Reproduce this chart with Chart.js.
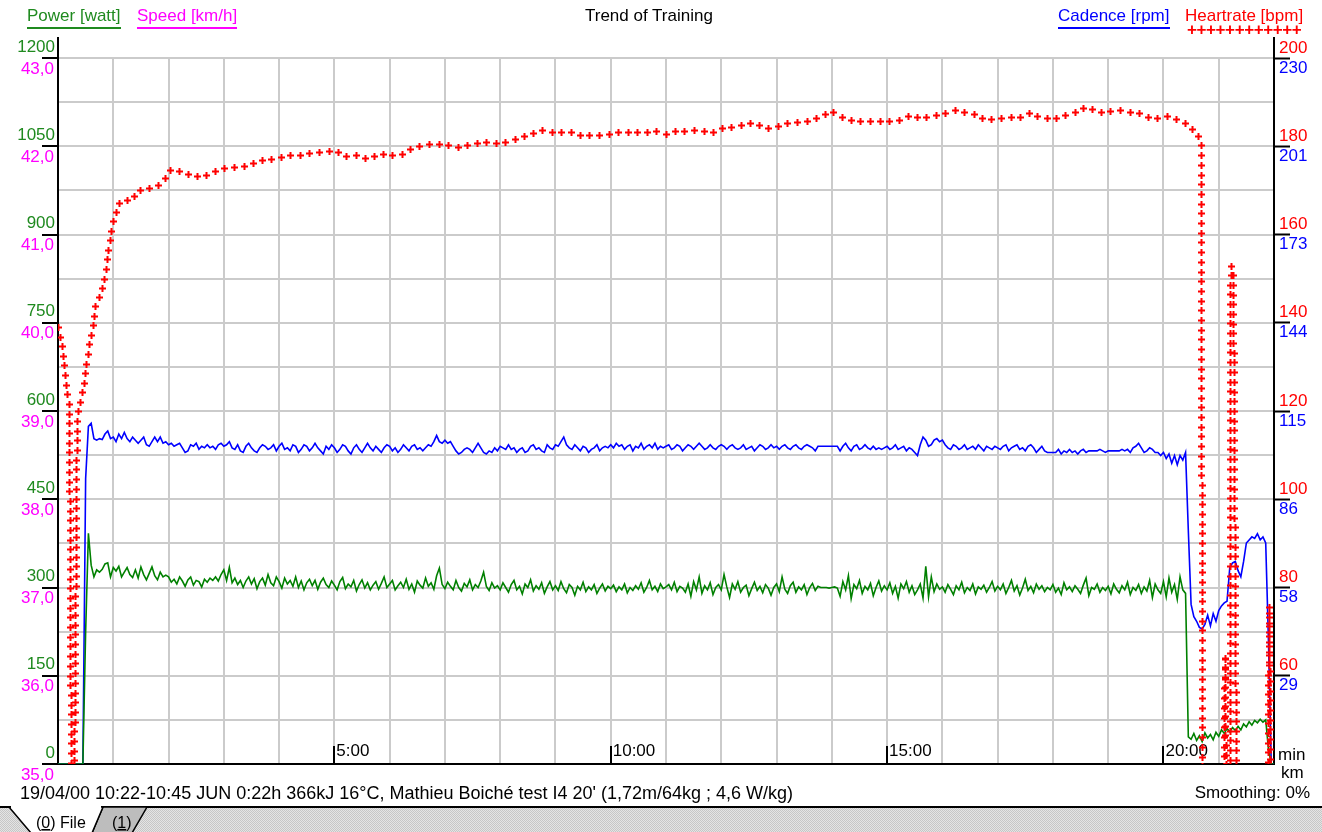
<!DOCTYPE html>
<html>
<head>
<meta charset="utf-8">
<title>Trend of Training</title>
<script src="https://cdn.jsdelivr.net/npm/chart.js@4.4.1/dist/chart.umd.min.js"></script>
<style>
  html, body { margin: 0; padding: 0; background: #ffffff; }
  body { position: relative; width: 1322px; height: 832px; overflow: hidden;
         font-family: 'Liberation Sans', Arial, sans-serif; font-size: 17px; }
  #trend { position: absolute; left: 0; top: 0; }
  .txt { position: absolute; white-space: nowrap; line-height: 20px; }
  .key { padding-bottom: 1px; border-bottom: 2px solid currentColor; }
  #tabs { position: absolute; left: 0; top: 804px; }
</style>
</head>
<body>
<canvas id="trend" width="1322" height="832"></canvas>

<div class="txt key" style="left:27px;top:6px;color:#1f8a1f">Power [watt]</div>
<div class="txt key" style="left:137px;top:6px;color:#ff00ff">Speed [km/h]</div>
<div class="txt" style="left:585px;top:6px;color:#000">Trend of Training</div>
<div class="txt key" style="left:1058px;top:6px;color:#0000ff">Cadence [rpm]</div>
<div class="txt" style="left:1185px;top:6px;color:#ff0000">Heartrate [bpm]</div>
<div class="txt" style="left:1187px;top:20px;color:#ff0000;font-weight:bold;letter-spacing:-0.4px">++++++++++++</div>

<div class="txt" style="left:1278px;top:745px">min</div>
<div class="txt" style="left:1281px;top:763px">km</div>
<div class="txt" style="left:20px;top:783px;font-size:18px">19/04/00 10:22-10:45 JUN 0:22h 366kJ 16°C, Mathieu Boiché test I4 20' (1,72m/64kg ; 4,6 W/kg)</div>
<div class="txt" style="right:12px;top:783px">Smoothing: 0%</div>

<svg id="tabs" width="1322" height="28">
  <defs>
    <pattern id="dots" width="2" height="2" patternUnits="userSpaceOnUse">
      <rect width="2" height="2" fill="#e4e4e4"/>
      <rect width="1" height="1" fill="#c6c6c6"/>
      <rect x="1" y="1" width="1" height="1" fill="#c6c6c6"/>
    </pattern>
  </defs>
  <rect x="0" y="3" width="1322" height="25" fill="url(#dots)"/>
  <line x1="0" y1="3" x2="1322" y2="3" stroke="#000" stroke-width="2"/>
  <polygon points="103,3 147,3 132,29 92,29" fill="#bdbdbd" stroke="#000" stroke-width="1.5"/>
  <polygon points="9,3 103,3 92,29 31,29" fill="#fff" stroke="#000" stroke-width="1.5"/>
  <line x1="11" y1="3" x2="101" y2="3" stroke="#fff" stroke-width="2.5"/>
  <text x="36" y="24" font-family="Liberation Sans, Arial, sans-serif" font-size="16">(<tspan text-decoration="underline">0</tspan>) File</text>
  <text x="112" y="24" font-family="Liberation Sans, Arial, sans-serif" font-size="16">(<tspan text-decoration="underline">1</tspan>)</text>
</svg>

<script>
// power and cadence are recorded every 3 s (0.05 min)
const sampleStep = 0.05;

// power [watt], one value per sample, 0:00 .. 22:00
const powerWatt = [
  0,0,0,0,0,0,0,0,0,0,225,392,338,318,330,326,331,340,342,318,
  334,328,336,318,326,334,322,317,330,316,335,322,313,324,335,320,313,326,318,321,
  318,309,314,306,318,311,302,313,318,304,312,310,301,314,309,316,312,318,311,322,
  330,312,334,308,316,305,312,300,311,318,306,315,298,310,316,304,322,308,303,318,
  310,299,316,306,312,302,318,300,311,296,308,314,303,312,297,309,316,305,300,311,
  304,296,310,317,298,306,301,312,294,305,313,299,308,296,304,310,297,307,318,300,
  306,312,296,303,309,300,314,297,306,292,311,304,299,316,302,308,297,320,333,305,
  298,309,302,296,312,300,294,307,301,313,296,305,300,311,326,302,295,308,299,303,
  296,308,300,292,305,312,296,302,289,306,300,313,294,303,297,308,290,301,310,296,
  303,295,310,298,291,305,300,287,302,296,309,293,301,296,305,290,299,306,294,302,
  298,304,293,301,296,306,291,300,295,303,297,308,292,300,312,296,302,293,306,298,
  301,305,296,309,293,302,299,292,306,285,310,296,318,290,303,296,308,288,300,305,
  296,322,301,283,306,297,310,292,300,304,286,298,309,295,302,291,305,299,287,300,
  306,293,318,297,290,303,309,292,301,296,305,288,300,307,295,302,300,300,300,299,
  300,301,299,285,310,296,320,281,305,298,312,290,302,296,307,286,300,311,294,303,
  296,308,290,302,282,306,298,310,292,303,288,296,306,282,336,284,318,293,306,297,
  301,292,305,297,288,303,296,309,291,300,295,306,289,301,297,304,292,300,310,294,
  302,296,306,290,300,312,294,303,287,299,314,295,302,291,306,297,303,293,300,296,
  305,292,299,288,308,296,301,293,303,297,290,304,316,286,300,297,306,292,300,295,
  302,289,306,297,291,303,296,309,288,300,295,305,290,301,294,312,283,306,296,290,
  310,284,316,292,305,280,318,296,290,46,42,52,40,48,38,53,44,50,41,54,
  47,58,52,60,55,62,57,64,58,68,63,72,66,74,70,76,71,75,25,0,
  0
];

// cadence [rpm], same sampling as power
const cadenceRpm = [
  0,0,0,0,0,0,0,0,0,0,93,110,111,106,105.5,106,105.7,107.5,108.5,106,
  106.5,105,107.5,106,108,106,105,106.5,105.5,104.5,105.5,106.5,104,103.5,105,106.5,105,106.5,104.5,105,
  104,104.5,103.5,104,104.5,103,101.5,102,104,103.5,104.5,102.5,103.5,103,104,103,103.5,102.5,104,104.5,
  103.5,104,105,103,102.5,104,102,101.5,103.5,104.5,103,102,101.5,103,104,103.5,102.5,103,104,102,
  103.5,104.5,102.5,103,102,104,103.5,101.5,102.5,104,103.5,102,103,104.5,103,102,101,103.5,102.5,104,
  103,101.5,102.5,104,103.5,102,101,103,104,102.5,101.5,103,104.5,103,102,103.5,102.5,101.5,103,104,
  103.5,102,103,101.5,102.5,104,103,102,103.5,104,102.5,103,102,103,104,103.5,105,107,105,104.5,
  105.5,104.5,105,103.5,102,101,101.5,102.5,103,102.5,101.5,103,104.5,103,101.5,101,102,101.5,103,102,
  103.5,103,102.5,104,102.5,103,101.5,102.5,103,101.5,102,103.5,104,102.5,103,102,101.5,104,103,102.5,
  104,103.5,105,106.5,104,103,102.5,104,103,102,103.5,103,101.5,102.5,103,104,102,103,103.5,103,
  104,103,104.5,103.5,104,102.5,103.5,104,102,103.5,103,104.5,102.5,103.5,104,103,104.5,102.5,103.5,103,
  103.5,104,102.5,103,104,103.5,102,103,104,103.5,102.5,103.5,104.5,103.5,102.5,103,104,103,102.5,103.5,
  104,103.5,102.5,103.5,104,103,102.5,103,104,102.5,103,103.5,102,103,104,103.5,102.5,103,104,103,
  103.5,102.5,103.5,104,103,102.5,103.5,104,103,102.5,103.5,104,103.5,103,102,103.5,103.5,103.5,103.5,103.5,
  103.5,103.5,103.5,102,103.5,104.5,103,102,103.5,104,102.5,103,104,103,102.5,103.5,102.5,103,102.5,103,
  103.5,102.5,103,104,102.5,103,103.5,102,103,102.5,101.5,100.5,104,106.5,105.5,103.5,104,105.5,106,105,
  105.5,104,103,102.5,104,103.5,102.5,103,104,102.5,103,103.5,102.5,104,103,102,103.5,103,102.5,103.5,
  103,102.5,103.5,104,102,103,103.5,104,102.5,103,102,103.5,104,103,101.5,102.5,103.5,102,101.5,101.5,
  101.5,101.5,102.5,101,102,101.5,102.5,101.5,102,101,102,102.5,101.5,102,102,102,102,102.5,102,101.5,
  102,102,102,102,102,102.5,102,102.5,101.5,103,103.5,104.5,103,101.5,102,103,102.5,101.5,101.5,100.5,
  101.5,99.5,101,98,100.5,97.5,100.5,99,101.5,76,52,48,46.5,44.5,44,45.5,48.5,45,49,46.5,
  50,51.5,52.5,53,64,65.5,66,63,61,66,72,73,74,73.5,75,73,74,72,40,0,
  0
];

// heart rate [bpm] at irregular times [min]; 0 = no signal
const hrMinutes = [
  0, 0.07, 0.13, 0.2, 0.25, 0.27, 0.34, 0.45, 0.55, 0.62, 0.67, 0.78, 0.87, 0.92, 0.98, 1.05, 1.14,
  1.32, 1.43, 1.61, 1.79, 1.94, 2.06, 2.23, 2.41, 2.59, 2.77,
  3.0, 3.2, 3.4, 3.6, 3.8, 4.0, 4.2, 4.4, 4.6, 4.8, 5.0, 5.2, 5.4, 5.6, 5.8, 6.0, 6.2, 6.4, 6.6, 6.8,
  7.0, 7.2, 7.4, 7.6, 7.8, 8.0, 8.2, 8.4, 8.6, 8.8, 9.0, 9.2, 9.4, 9.6, 9.8, 10.0, 10.2, 10.4, 10.6, 10.8,
  11.0, 11.2, 11.4, 11.6, 11.8, 12.0, 12.2, 12.4, 12.6, 12.8, 13.0, 13.2, 13.4, 13.6, 13.8, 14.0, 14.2, 14.4, 14.6, 14.8,
  15.0, 15.2, 15.4, 15.6, 15.8, 16.0, 16.2, 16.4, 16.6, 16.8, 17.0, 17.2, 17.4, 17.6, 17.8, 18.0, 18.2, 18.4, 18.6, 18.8,
  19.0, 19.2, 19.4, 19.6, 19.8, 20.0, 20.2, 20.4,
  20.55, 20.63, 20.68, 20.7, 21.06, 21.11, 21.15, 21.19, 21.21, 21.23, 21.26, 21.33, 21.86, 21.91, 21.96
];
const hrBpm = [
  139, 135, 127, 121, 0, 0, 118, 125, 134, 139, 144, 147, 152, 157.6, 162, 165.6, 168,
  167.6, 170, 170.5, 170.8, 172.8, 175, 174.2, 173.5, 173, 174,
  175.1, 175.3, 175.5, 176.7, 176.9, 177.6, 178.0, 178.0, 178.7, 178.7,
  179.2, 177.8, 178.0, 177.1, 178.5, 178.0, 178.2, 179.6, 180.3, 180.7,
  180.5, 179.8, 180.3, 180.7, 181.0, 180.7, 181.4, 182.1, 183.0, 183.7,
  183.0, 183.5, 182.5, 182.5, 182.5, 182.8, 183.5, 183.2, 183.0, 183.5,
  182.8, 183.7, 183.5, 183.7, 183.0, 184.1, 184.4, 185.0, 185.3, 184.1,
  184.6, 185.3, 185.5, 185.9, 186.9, 188.0, 186.4, 185.7, 185.7, 185.9,
  185.7, 185.9, 187.1, 186.4, 186.9, 187.3, 188.2, 187.8, 187.3, 185.9,
  186.4, 186.6, 186.6, 187.8, 186.4, 186.2, 186.9, 187.8, 189.1, 187.8,
  188.0, 188.2, 187.8, 187.5, 186.2, 186.9, 186.4, 185.3,
  183.7, 182.3, 180.3, 0, 0, 65, 0, 0, 148, 153, 150, 0, 0, 76, 0
];

const powerPoints = powerWatt.map((w, i) => ({ x: i * sampleStep, y: w }));
const cadencePoints = cadenceRpm.map((c, i) => ({ x: i * sampleStep, y: c }));
const hrPoints = hrMinutes.map((t, i) => ({ x: t, y: hrBpm[i] }));

// only every n-th tick gets a black tick mark
function majorTick(every, skipFirst) {
    return function(ctx) {
        const v = ctx.tick ? ctx.tick.value : NaN;
        if (skipFirst && v <= ctx.scale.min) return 'rgba(0,0,0,0)';
        return Math.abs(v % every) < 1e-6 ? '#000' : 'rgba(0,0,0,0)';
    };
}

// heart rate is drawn as "+" marks laid along its path at a fixed spacing
const crossTrail = {
    id: 'crossTrail',
    afterDatasetsDraw(chart) {
        const pts = chart.getDatasetMeta(2).data;
        const area = chart.chartArea;
        const ctx = chart.ctx;
        const gap = 9.7, arm = 3.5;
        ctx.save();
        ctx.beginPath();
        ctx.rect(area.left, area.top, area.right - area.left, area.bottom - area.top);
        ctx.clip();
        ctx.strokeStyle = '#ff0000';
        ctx.lineWidth = 2;
        ctx.beginPath();
        let carry = 0;
        for (let i = 1; i < pts.length; i++) {
            const a = pts[i - 1], b = pts[i];
            const dx = b.x - a.x, dy = b.y - a.y;
            const len = Math.hypot(dx, dy);
            if (len === 0) continue;
            let d = carry;
            while (d <= len) {
                const x = Math.round(a.x + dx * d / len) + 0.5;
                const y = Math.round(a.y + dy * d / len) + 0.5;
                ctx.moveTo(x - arm, y); ctx.lineTo(x + arm, y);
                ctx.moveTo(x, y - arm); ctx.lineTo(x, y + arm);
                d += gap;
            }
            carry = d - len;
        }
        ctx.stroke();
        ctx.restore();
    }
};

// speed shares the left margin with power, cadence the right one with heart rate:
// widen their label boxes after layout so the labels are not clipped away
const sharedMargins = {
    id: 'sharedMargins',
    afterLayout(chart) {
        chart.scales.speed.left = 0;
        chart.scales.cadence.right = chart.width;
    }
};

// the two value axes stick out above the plot
const axisStubs = {
    id: 'axisStubs',
    afterDraw(chart) {
        const a = chart.chartArea, ctx = chart.ctx;
        ctx.save();
        ctx.strokeStyle = '#000';
        ctx.lineWidth = 2;
        ctx.beginPath();
        ctx.moveTo(a.left, a.top - 21); ctx.lineTo(a.left, a.top);
        ctx.moveTo(a.right, a.top - 21); ctx.lineTo(a.right, a.top);
        ctx.stroke();
        ctx.restore();
    }
};

Chart.defaults.font.family = "'Liberation Sans', Arial, sans-serif";
Chart.defaults.font.size = 17;
Chart.defaults.color = '#000';

new Chart(document.getElementById('trend'), {
    type: 'line',
    data: {
        datasets: [
            { label: 'Power [watt]', data: powerPoints, yAxisID: 'power',
              borderColor: '#008000', borderWidth: 1.6, pointRadius: 0 },
            { label: 'Cadence [rpm]', data: cadencePoints, yAxisID: 'cadence',
              borderColor: '#0000ff', borderWidth: 1.6, pointRadius: 0 },
            { label: 'Heartrate [bpm]', data: hrPoints, yAxisID: 'hr',
              showLine: false, pointRadius: 0, borderColor: '#ff0000' }
        ]
    },
    options: {
        responsive: false,
        animation: false,
        events: [],
        layout: { padding: { top: 58, left: 0, right: 0, bottom: 0 } },
        plugins: {
            legend: { display: false },
            title: { display: false },
            tooltip: { enabled: false }
        },
        scales: {
            x: {
                type: 'linear', position: 'bottom', min: 0, max: 22,
                afterFit: s => { s.height = 68; },
                border: { display: true, color: '#000', width: 2 },
                grid: { color: '#cbcbcb', lineWidth: 2, drawTicks: true, tickLength: -18,
                        tickWidth: 2, tickColor: majorTick(5, true) },
                // mirror keeps the labels from being clipped: they sit inside the plot
                ticks: { stepSize: 1, autoSkip: false, maxRotation: 0, align: 'start', mirror: true,
                         padding: 2, labelOffset: 2,
                         callback: v => (v % 5 === 0 && v > 0) ? v + ':00' : '' }
            },
            power: {
                type: 'linear', position: 'left', weight: 1, min: 0, max: 1200,
                afterFit: s => { s.width = 58; },
                border: { display: true, color: '#000', width: 2 },
                grid: { color: '#cbcbcb', lineWidth: 2, drawTicks: true, tickLength: 16,
                        tickWidth: 2, tickColor: majorTick(150, false) },
                ticks: { stepSize: 75, autoSkip: false, color: '#1f8a1f', padding: -13, labelOffset: -11,
                         callback: v => v % 150 === 0 ? String(v) : '' }
            },
            speed: {
                type: 'linear', position: 'left', weight: 0, min: 35, max: 43,
                afterFit: s => { s.width = 0; },
                border: { display: false },
                grid: { display: false, drawTicks: false },
                ticks: { stepSize: 1, autoSkip: false, color: '#ff00ff', padding: 4, labelOffset: 11,
                         callback: v => v.toFixed(1).replace('.', ',') }
            },
            hr: {
                type: 'linear', position: 'right', weight: 1, min: 40, max: 200,
                afterFit: s => { s.width = 48; },
                border: { display: true, color: '#000', width: 2 },
                grid: { drawOnChartArea: false, drawTicks: true, tickLength: 16,
                        tickWidth: 2, tickColor: majorTick(20, true) },
                ticks: { stepSize: 10, autoSkip: false, color: '#ff0000', padding: -11, labelOffset: -10,
                         callback: v => (v % 20 === 0 && v > 40) ? String(v) : '' }
            },
            cadence: {
                type: 'linear', position: 'right', weight: 0, min: 0, max: 230,
                afterFit: s => { s.width = 0; },
                border: { display: false },
                grid: { display: false, drawTicks: false },
                ticks: { stepSize: 28.75, autoSkip: false, color: '#0000ff', padding: 5, labelOffset: 10,
                         callback: v => v > 0 ? String(Math.round(v)) : '' }
            }
        }
    },
    plugins: [sharedMargins, crossTrail, axisStubs]
});
</script>
</body>
</html>
